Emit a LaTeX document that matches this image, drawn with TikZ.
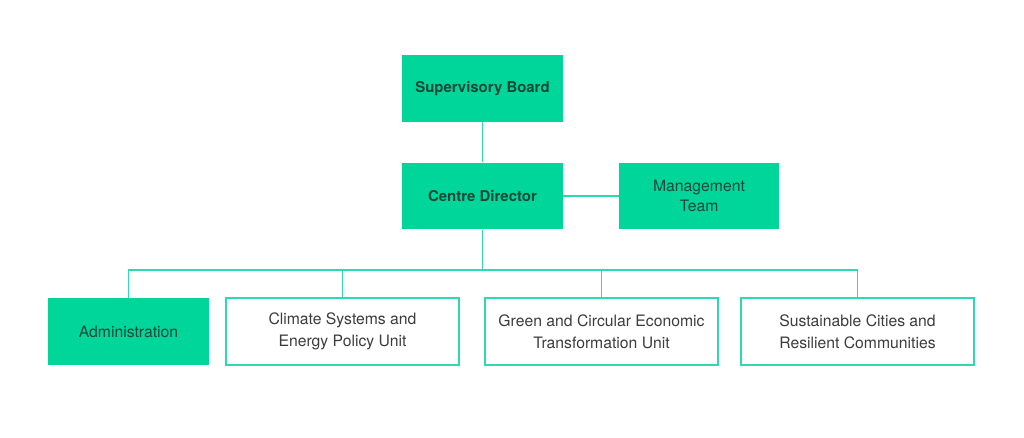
\documentclass[tikz,border=0pt]{standalone}
\usepackage{fontspec}
\setmainfont{TeX Gyre Heros}
\usepackage{tikz}
\usetikzlibrary{positioning, calc}
\usepackage{xcolor}
\definecolor{mint}{RGB}{0,214,154}
\definecolor{linemint}{RGB}{44,218,178}
\definecolor{darkink}{RGB}{22,72,58}
\definecolor{greyink}{RGB}{60,60,60}

\begin{document}
\begin{tikzpicture}[x=0.75pt, y=-0.75pt,
  unitbox/.style={minimum height=50pt, inner sep=0pt, align=center, font=\fontsize{11.8}{16.5}\selectfont},
  filled/.style={unitbox, fill=mint, text=darkink},
  outlined/.style={unitbox, draw=linemint, line width=1.4pt, fill=white, text=greyink},
  link/.style={linemint, line width=1.2pt}]
  \useasboundingbox (0,0) rectangle (1024,438);
  % top
  \node[filled, minimum width=121pt, font=\fontsize{11.2}{15}\selectfont\bfseries] (board) at (482.5,88.5) {Supervisory Board};
  \node[filled, minimum width=121pt, font=\fontsize{11.2}{15}\selectfont\bfseries] (director) at (482.5,196) {Centre Director};
  \node[filled, minimum width=120pt, font=\fontsize{11.8}{15}\selectfont] (mgmt) at (699,196) {Management\\Team};
  % units
  \node[filled, minimum width=121pt] (admin) at (128.5,331.5) {Administration};
  \node[outlined, minimum width=175pt] (climate) at (342.5,331.5) {Climate Systems and\\Energy Policy Unit};
  \node[outlined, minimum width=175pt] (green) at (601.5,331.5) {Green and Circular Economic\\Transformation Unit};
  \node[outlined, minimum width=175pt] (cities) at (857.5,331.5) {Sustainable Cities and\\Resilient Communities};
  % links
  \coordinate (bus) at (482.5,270);
  \draw[link] (board) -- (director);
  \draw[link] (director) -- (mgmt);
  \draw[link] (director.south) -- (bus);
  \draw[link] (bus) -| (admin.north);
  \draw[link] (bus) -| (climate.north);
  \draw[link] (bus) -| (green.north);
  \draw[link] (bus) -| (cities.north);
\end{tikzpicture}
\end{document}
